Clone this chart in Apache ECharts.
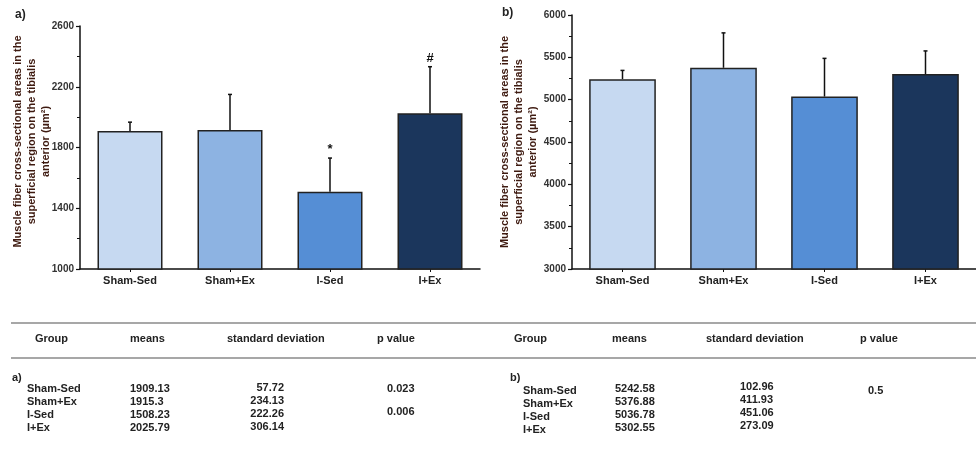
<!DOCTYPE html>
<html>
<head>
<meta charset="utf-8">
<script src="https://cdn.jsdelivr.net/npm/echarts@6/dist/echarts.min.js"></script>
<style>html,body{margin:0;padding:0;background:#fff}#c{width:976px;height:456px}</style>
</head>
<body>
<div id="c"></div>
<script>
// ---- data ----
const categories = ['Sham-Sed', 'Sham+Ex', 'I-Sed', 'I+Ex'];
const meansA = [1909.13, 1915.3, 1508.23, 2025.79];
const sdA = [57.72, 234.13, 222.26, 306.14];
const marksA = ['', '', '*', '#'];
const pValuesA = ['0.023', '0.006'];
const meansB = [5242.58, 5376.88, 5036.78, 5302.55];
const sdB = [102.96, 411.93, 451.06, 273.09];
const marksB = ['', '', '', ''];
const pValuesB = ['0.5'];
const yRangeA = [1000, 2600, 400];
const yRangeB = [3000, 6000, 500];
const tableHeaders = ['Group', 'means', 'standard deviation', 'p value'];
const axisName = 'Muscle fiber cross-sectional areas in the\nsuperficial region on the tibialis\nanterior (µm²)';

// ---- styles ----
const barColors = ['#c6d9f1', '#8db3e2', '#558ed5', '#1b365c'];
const FONT = 'Liberation Sans, Arial, sans-serif';

const chart = echarts.init(document.getElementById('c'));

function yAxis(idx, range, gap, padding) {
  return {
    type: 'value', gridIndex: idx, min: range[0], max: range[1], interval: range[2],
    name: axisName, nameLocation: 'middle', nameGap: gap, nameRotate: 90, nameMoveOverlap: false,
    nameTextStyle: { fontFamily: FONT, fontWeight: 'bold', fontSize: 11, color: '#3e1a10', lineHeight: 14, padding: padding },
    axisLine: { show: true, lineStyle: { color: '#111', width: 1.5 } },
    axisTick: { show: true, length: 4, lineStyle: { color: '#111', width: 1.2 } },
    minorTick: { show: true, splitNumber: 2, length: 3, lineStyle: { color: '#111', width: 1 } },
    splitLine: { show: false },
    axisLabel: { fontFamily: FONT, fontWeight: 'bold', fontSize: 10, color: '#333', margin: 6, formatter: (v) => String(v) }
  };
}
function xAxis(idx) {
  return {
    type: 'category', gridIndex: idx, data: categories,
    axisLine: { show: true, lineStyle: { color: '#111', width: 1.5 } },
    axisTick: { show: true, alignWithLabel: true, length: 3, lineStyle: { color: '#111' } },
    axisLabel: { fontFamily: FONT, fontWeight: 'bold', fontSize: 11, color: '#222', margin: 6 }
  };
}
function barSeries(idx, means, width) {
  return {
    type: 'bar', xAxisIndex: idx, yAxisIndex: idx, barWidth: width,
    data: means.map((v, i) => ({ value: v, itemStyle: { color: barColors[i] } })),
    itemStyle: { borderColor: '#222', borderWidth: 1.5 },
    emphasis: { disabled: true }, z: 2
  };
}
function errSeries(idx, means, sds, marks) {
  return {
    type: 'custom', xAxisIndex: idx, yAxisIndex: idx, z: 5,
    data: means.map((m, i) => [i, m, sds[i]]),
    renderItem: function (params, api) {
      const i = api.value(0), m = api.value(1), s = api.value(2);
      const p0 = api.coord([i, m]);
      const p1 = api.coord([i, m + s]);
      const ch = [
        { type: 'line', shape: { x1: p0[0], y1: p0[1], x2: p1[0], y2: p1[1] }, style: { stroke: '#111', lineWidth: 1.5 } },
        { type: 'line', shape: { x1: p1[0] - 2, y1: p1[1], x2: p1[0] + 2, y2: p1[1] }, style: { stroke: '#111', lineWidth: 1.5 } }
      ];
      const mk = marks[params.dataIndex];
      if (mk) {
        ch.push({ type: 'text', x: p1[0], y: p1[1] - 2, style: { text: mk, fontFamily: FONT, fontWeight: 'bold', fontSize: 13, fill: '#111', align: 'center', verticalAlign: 'bottom' } });
      }
      return { type: 'group', children: ch };
    }
  };
}

// ---- table graphics ----
const g = [];
function txt(x, y, t, align, size) {
  g.push({ type: 'text', x: x, y: y, style: { text: t, fontFamily: FONT, fontWeight: 'bold', fontSize: size || 11, fill: '#222', align: align || 'left', verticalAlign: 'middle' } });
}
g.push({ type: 'line', shape: { x1: 11, y1: 323, x2: 976, y2: 323 }, style: { stroke: '#8a8a8a', lineWidth: 1.5 } });
g.push({ type: 'line', shape: { x1: 11, y1: 358, x2: 976, y2: 358 }, style: { stroke: '#8a8a8a', lineWidth: 1.5 } });
const hxA = [35, 130, 227, 377], hxB = [514, 612, 706, 860];
tableHeaders.forEach((h, i) => { txt(hxA[i], 339, h); txt(hxB[i], 339, h); });
txt(12, 378, 'a)');
txt(510, 378, 'b)');
categories.forEach((c, i) => {
  txt(27, 389 + i * 13, c);
  txt(130, 389 + i * 13, String(meansA[i]));
  txt(284, 388 + i * 13, String(sdA[i]), 'right');
  txt(523, 391 + i * 13, c);
  txt(615, 389 + i * 13, String(meansB[i]));
  txt(740, 387 + i * 13, String(sdB[i]));
});
const pyA = [389, 412];
pValuesA.forEach((p, i) => txt(387, pyA[i], p));
pValuesB.forEach((p) => txt(868, 391, p));
txt(15, 15, 'a)', 'left', 12);
txt(502, 13, 'b)', 'left', 12);

chart.setOption({
  animation: false,
  backgroundColor: '#fff',
  grid: [
    { left: 80, right: 496, top: 26, bottom: 187 },
    { left: 572, right: -12, top: 15, bottom: 187 }
  ],
  xAxis: [xAxis(0), xAxis(1)],
  yAxis: [yAxis(0, yRangeA, 27, [0, 0, 0, 12]), yAxis(1, yRangeB, 32, 0)],
  series: [
    barSeries(0, meansA, '65%'), errSeries(0, meansA, sdA, marksA),
    barSeries(1, meansB, '66%'), errSeries(1, meansB, sdB, marksB)
  ],
  graphic: g
});
</script>
</body>
</html>
